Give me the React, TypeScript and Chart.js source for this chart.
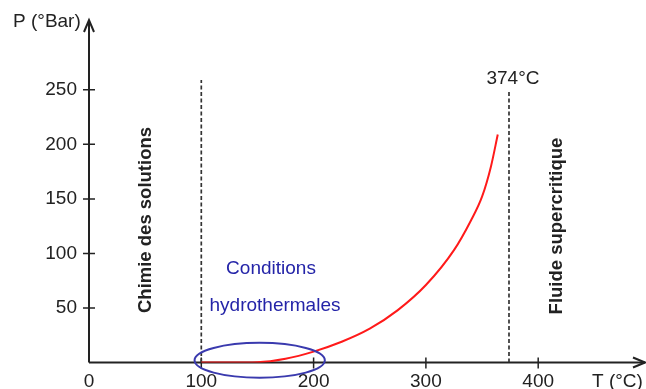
import React, { useEffect, useRef } from "react";
import { Chart, registerables } from "chart.js";

Chart.register(...registerables);

// Saturation curve (T in °C, P in bar)
const curveT = [100, 125, 150, 175, 200, 225, 250, 275, 300, 325, 340, 350, 358, 364];
const curveP = [0, 0, 0.3, 3.5, 10, 19, 31, 48, 71, 103, 130, 152, 180, 209];

const xTicks = [0, 100, 200, 300, 400];
const yTicks = [50, 100, 150, 200, 250];

const leftLimitT = 100;
const leftLimitTop = 259;
const criticalT = 374;
const criticalTop = 250;
const criticalLabel = "374°C";

const ellipseCenter = { t: 152, p: 2 };
const ellipseRadius = { t: 58, p: 16 };

const xAxisLabel = "T (°C)";
const yAxisLabel = "P (°Bar)";
const leftZoneLabel = "Chimie des solutions";
const rightZoneLabel = "Fluide supercritique";
const hydroLabel1 = "Conditions";
const hydroLabel2 = "hydrothermales";

const FONT = "'Liberation Sans', Arial, Helvetica, sans-serif";

const decorPlugin = {
  id: "decor",
  beforeDatasetsDraw(chart: any) {
    const { ctx } = chart;
    const xs = chart.scales.x;
    const ys = chart.scales.y;
    const x0 = xs.getPixelForValue(0);
    const y0 = ys.getPixelForValue(0);
    const xEnd = xs.right;
    const yTop = ys.top;
    ctx.save();
    ctx.strokeStyle = "#222";
    ctx.fillStyle = "#222";
    ctx.lineWidth = 2;
    // axes
    ctx.beginPath();
    ctx.moveTo(x0, y0);
    ctx.lineTo(x0, yTop);
    ctx.moveTo(x0, y0);
    ctx.lineTo(xEnd - 1, y0);
    ctx.stroke();
    // arrowheads
    ctx.beginPath();
    ctx.moveTo(x0 - 5, yTop + 12);
    ctx.lineTo(x0, yTop);
    ctx.lineTo(x0 + 5, yTop + 12);
    ctx.moveTo(xEnd - 13, y0 - 5);
    ctx.lineTo(xEnd - 1, y0);
    ctx.lineTo(xEnd - 13, y0 + 5);
    ctx.stroke();
    // ticks
    ctx.lineWidth = 1.5;
    ctx.beginPath();
    for (const t of xTicks) {
      if (t === 0) continue;
      const px = xs.getPixelForValue(t);
      ctx.moveTo(px, y0 - 5);
      ctx.lineTo(px, y0 + 6);
    }
    for (const p of yTicks) {
      const py = ys.getPixelForValue(p);
      ctx.moveTo(x0 - 6, py);
      ctx.lineTo(x0 + 6, py);
    }
    ctx.stroke();
    // tick labels
    ctx.font = `19px ${FONT}`;
    ctx.textBaseline = "middle";
    ctx.textAlign = "center";
    for (const t of xTicks) {
      ctx.fillText(String(t), xs.getPixelForValue(t), y0 + 19);
    }
    ctx.textAlign = "right";
    for (const p of yTicks) {
      ctx.fillText(String(p), x0 - 12, ys.getPixelForValue(p));
    }
    // axis titles
    ctx.textAlign = "left";
    ctx.fillText(yAxisLabel, 13, 22);
    ctx.fillText(xAxisLabel, 592, y0 + 19);
    ctx.textAlign = "center";
    ctx.fillText(criticalLabel, 513, 79);
    // rotated zone labels
    ctx.font = `bold 18.5px ${FONT}`;
    ctx.save();
    ctx.translate(146, 220);
    ctx.rotate(-Math.PI / 2);
    ctx.fillText(leftZoneLabel, 0, 0);
    ctx.restore();
    ctx.save();
    ctx.translate(557, 226);
    ctx.rotate(-Math.PI / 2);
    ctx.fillText(rightZoneLabel, 0, 0);
    ctx.restore();
    // blue labels
    ctx.fillStyle = "#2424a8";
    ctx.font = `19px ${FONT}`;
    ctx.fillText(hydroLabel1, 271, 269);
    ctx.fillText(hydroLabel2, 275, 306);
    ctx.restore();
  },
  afterDatasetsDraw(chart: any) {
    const { ctx } = chart;
    const xs = chart.scales.x;
    const ys = chart.scales.y;
    const cx = xs.getPixelForValue(ellipseCenter.t);
    const cy = ys.getPixelForValue(ellipseCenter.p);
    const rx = xs.getPixelForValue(ellipseCenter.t + ellipseRadius.t) - cx;
    const ry = cy - ys.getPixelForValue(ellipseCenter.p + ellipseRadius.p);
    ctx.save();
    ctx.strokeStyle = "#3a3aae";
    ctx.lineWidth = 2;
    ctx.beginPath();
    ctx.ellipse(cx, cy, rx, ry, 0, 0, Math.PI * 2);
    ctx.stroke();
    ctx.restore();
  },
};

export default function App() {
  const ref = useRef<HTMLCanvasElement>(null);
  useEffect(() => {
    if (!ref.current) return;
    const chart = new Chart(ref.current, {
      type: "line",
      data: {
        datasets: [
          {
            data: curveT.map((t, i) => ({ x: t, y: curveP[i] })),
            borderColor: "#ff1a1a",
            borderWidth: 2,
            pointRadius: 0,
            cubicInterpolationMode: "monotone",
          },
          {
            data: [
              { x: leftLimitT, y: 0 },
              { x: leftLimitT, y: leftLimitTop },
            ],
            borderColor: "#333",
            borderWidth: 1.7,
            borderDash: [4, 2.5],
            pointRadius: 0,
          },
          {
            data: [
              { x: criticalT, y: 0 },
              { x: criticalT, y: criticalTop },
            ],
            borderColor: "#333",
            borderWidth: 1.7,
            borderDash: [4, 2.5],
            pointRadius: 0,
          },
        ],
      },
      options: {
        responsive: false,
        animation: false,
        layout: { padding: { left: 89, right: 0, top: 20, bottom: 26.5 } },
        plugins: { legend: { display: false }, tooltip: { enabled: false } },
        scales: {
          x: { type: "linear", min: 0, max: 496, display: false },
          y: { type: "linear", min: 0, max: 314, display: false },
        },
      },
      plugins: [decorPlugin],
    } as any);
    return () => chart.destroy();
  }, []);
  return (
    <div style={{ position: "absolute", left: 0, top: 0, width: 646, height: 389, background: "#fff" }}>
      <canvas ref={ref} width={646} height={389} />
    </div>
  );
}
